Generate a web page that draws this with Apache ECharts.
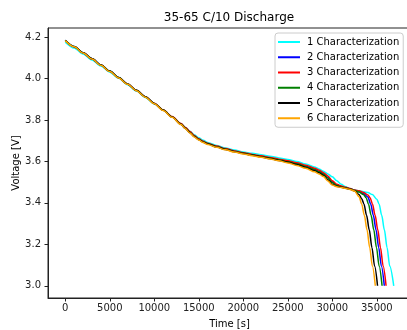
<!DOCTYPE html>
<html>
<head>
<meta charset="utf-8">
<script src="https://cdn.jsdelivr.net/npm/echarts@6/dist/echarts.min.js"></script>
<style>
html,body{margin:0;padding:0;background:#fff;}
#chart{width:407px;height:330px;}
</style>
</head>
<body>
<div id="chart"></div>
<script>
// ---- Data ----
const seriesNames = ['1 Characterization','2 Characterization','3 Characterization','4 Characterization','5 Characterization','6 Characterization'];
const xTicks = [0,5000,10000,15000,20000,25000,30000,35000];
const yTicks = [3.0,3.2,3.4,3.6,3.8,4.0,4.2];

// shared time points for the main part of every discharge curve [s]
const timeMain = [0,1000,2000,3000,4000,5000,6000,7000,8000,9000,10000,11000,12000,13000,13500,14000,14500,15000,15500,16000,17000,18000,19000,20000,21000,22000,23000,24000,25000,26000,27000,28000,28500,29000,29500,30000,30500,31000,31500,32000,32500];

// 1 Characterization (cyan)
const v1Main = [4.176,4.148,4.119,4.090,4.061,4.031,4.001,3.970,3.940,3.909,3.878,3.847,3.815,3.782,3.764,3.746,3.729,3.714,3.702,3.692,3.677,3.665,3.655,3.646,3.639,3.632,3.625,3.617,3.609,3.600,3.588,3.573,3.564,3.553,3.540,3.526,3.507,3.490,3.478,3.468,3.462];
const t1Tail = [33000,34000,34500,35000,35250,35550,35850,36150,36450,36900];
const v1Tail = [3.458,3.450,3.440,3.418,3.395,3.340,3.270,3.185,3.095,3.000];

// 2 Characterization (blue)
const v2Main = [4.185,4.155,4.125,4.096,4.066,4.036,4.005,3.974,3.943,3.912,3.880,3.848,3.815,3.781,3.761,3.741,3.722,3.707,3.695,3.686,3.672,3.660,3.649,3.640,3.632,3.624,3.616,3.608,3.600,3.590,3.577,3.562,3.553,3.541,3.524,3.502,3.487,3.479,3.473,3.468,3.461];
const t2Tail = [33000,33500,34000,34310,34610,34910,35210,35510,35840];
const v2Tail = [3.455,3.445,3.428,3.395,3.340,3.270,3.185,3.095,3.000];

// 3 Characterization (red)
const v3Main = [4.184,4.154,4.124,4.095,4.065,4.035,4.004,3.974,3.943,3.912,3.881,3.849,3.817,3.783,3.764,3.744,3.725,3.709,3.697,3.688,3.674,3.662,3.651,3.642,3.634,3.627,3.619,3.611,3.603,3.594,3.582,3.567,3.558,3.546,3.530,3.507,3.490,3.481,3.475,3.469,3.462];
const t3Tail = [33000,33500,34000,34250,34510,34810,35110,35410,35710,36040];
const v3Tail = [3.458,3.450,3.438,3.425,3.395,3.340,3.270,3.185,3.095,3.000];

// 4 Characterization (green)
const v4Main = [4.185,4.155,4.125,4.096,4.066,4.036,4.005,3.974,3.943,3.912,3.880,3.848,3.815,3.780,3.760,3.740,3.721,3.706,3.694,3.685,3.671,3.659,3.648,3.639,3.631,3.623,3.615,3.607,3.598,3.588,3.575,3.560,3.550,3.538,3.520,3.498,3.484,3.477,3.472,3.467,3.460];
const t4Tail = [33000,33500,33800,34060,34360,34660,34960,35260,35590];
const v4Tail = [3.452,3.440,3.425,3.395,3.340,3.270,3.185,3.095,3.000];

// 5 Characterization (black)
const v5Main = [4.184,4.154,4.124,4.095,4.065,4.035,4.004,3.973,3.942,3.911,3.879,3.847,3.814,3.779,3.759,3.739,3.720,3.705,3.693,3.684,3.670,3.658,3.647,3.638,3.630,3.622,3.614,3.605,3.596,3.585,3.571,3.555,3.545,3.532,3.512,3.490,3.480,3.475,3.471,3.466,3.458];
const t5Tail = [33000,33300,33550,33850,34150,34450,34750,35080];
const v5Tail = [3.440,3.420,3.395,3.340,3.270,3.185,3.095,3.000];

// 6 Characterization (orange)
const v6Main = [4.183,4.153,4.123,4.094,4.064,4.034,4.003,3.972,3.941,3.910,3.878,3.846,3.813,3.778,3.758,3.737,3.718,3.703,3.691,3.682,3.668,3.656,3.645,3.636,3.628,3.620,3.612,3.603,3.593,3.581,3.567,3.550,3.540,3.527,3.506,3.486,3.478,3.474,3.470,3.465,3.457];
const t6Tail = [33000,33300,33600,33900,34200,34500,34830];
const v6Tail = [3.430,3.395,3.340,3.270,3.185,3.095,3.000];

const colors = ['#00ffff','#0000ff','#ff0000','#008000','#000000','#ffa500'];

// ---- Build ----
function pairs(ts, vs){ return ts.map((t,i)=>[t, vs[i]]); }
const mains = [v1Main,v2Main,v3Main,v4Main,v5Main,v6Main];
const tailsT = [t1Tail,t2Tail,t3Tail,t4Tail,t5Tail,t6Tail];
const tailsV = [v1Tail,v2Tail,v3Tail,v4Tail,v5Tail,v6Tail];

const FONT = 'DejaVu Sans';
const series = seriesNames.map((name,i)=>({
  name: name,
  type: 'line',
  data: pairs(timeMain, mains[i]).concat(pairs(tailsT[i], tailsV[i])),
  symbol: 'none',
  showSymbol: false,
  smooth: 0.3,
  smoothMonotone: 'x',
  lineStyle: {color: colors[i], width: 1.5},
  itemStyle: {color: colors[i]},
  animation: false
}));

const chart = echarts.init(document.getElementById('chart'), null, {renderer:'canvas'});
chart.setOption({
  animation: false,
  backgroundColor: '#ffffff',
  title: {
    text: '35-65 C/10 Discharge',
    left: 229, top: 12, textAlign: 'center', padding: 0,
    textStyle: {fontFamily: FONT, fontSize: 12, fontWeight: 'normal', color: '#000'}
  },
  legend: {
    orient: 'vertical',
    left: 275, top: 33,
    padding: [3, 4, 3, 3],
    itemWidth: 22, itemHeight: 2,
    itemGap: 3.25,
    icon: 'rect',
    backgroundColor: 'rgba(255,255,255,0.8)',
    borderColor: '#cccccc', borderWidth: 1, borderRadius: 3,
    textStyle: {fontFamily: FONT, fontSize: 10, color: '#000', lineHeight: 12, padding: [0,0,0,2]},
    data: seriesNames
  },
  grid: {
    left: 48, top: 28, right: -4, bottom: 32,
    containLabel: false,
    outerBoundsMode: 'none',
    show: true, borderColor: '#222', borderWidth: 1, backgroundColor: 'transparent'
  },
  xAxis: {
    type: 'value',
    min: -1940, max: 38840,
    name: 'Time [s]', nameLocation: 'middle', nameGap: 21, nameMoveOverlap: false,
    nameTextStyle: {fontFamily: FONT, fontSize: 10, color: '#000'},
    axisLine: {show: true, onZero: false, lineStyle: {color: '#222', width: 1}},
    axisTick: {show: true, length: 3.5, lineStyle: {color: '#222'}, customValues: xTicks},
    axisLabel: {fontFamily: FONT, fontSize: 10, color: '#222', margin: 5, customValues: xTicks, formatter: v => String(v)},
    splitLine: {show: false}
  },
  yAxis: {
    type: 'value',
    min: 2.941, max: 4.244,
    name: 'Voltage [V]', nameLocation: 'middle', nameGap: 27, nameRotate: 90, nameMoveOverlap: false,
    nameTextStyle: {fontFamily: FONT, fontSize: 10, color: '#000'},
    axisLine: {show: true, onZero: false, lineStyle: {color: '#222', width: 1}},
    axisTick: {show: true, length: 3.5, lineStyle: {color: '#222'}, customValues: yTicks},
    axisLabel: {fontFamily: FONT, fontSize: 10, color: '#222', margin: 7, customValues: yTicks, formatter: v => v.toFixed(1)},
    splitLine: {show: false}
  },
  series: series
});
</script>
</body>
</html>
